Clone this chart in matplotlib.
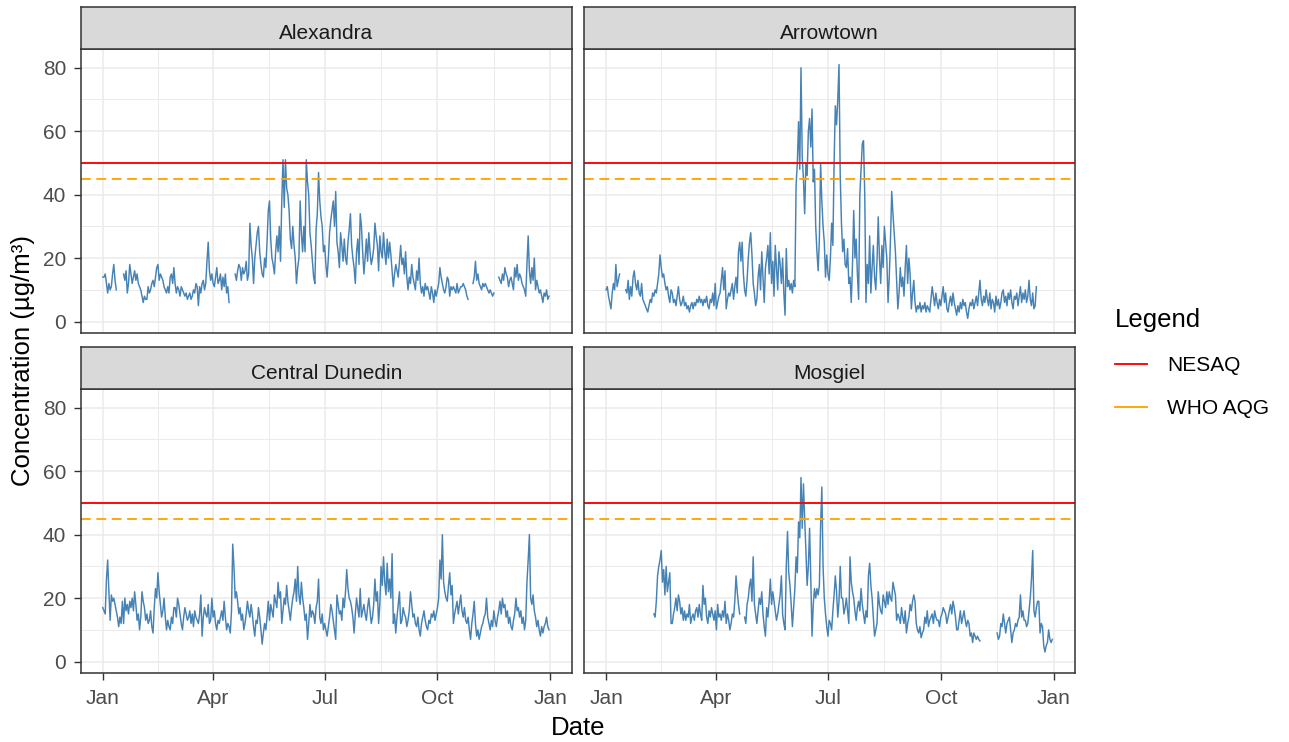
import numpy as np
import matplotlib
matplotlib.use("Agg")
import matplotlib.pyplot as plt
import matplotlib.dates as mdates
from matplotlib.lines import Line2D

plt.rcParams['font.family'] = ['Liberation Sans', 'DejaVu Sans']

nan = np.nan

sites = ["Alexandra", "Arrowtown", "Central Dunedin", "Mosgiel"]

# ---- daily PM10 (µg/m³), 2019, month by month ----
alex_jan = [14,14,15,12,9,12,10,11,15,18,13,10,nan,nan,nan,nan,nan,15,13,16,9,12,18,15,12,14,16,13,15,12,11]
alex_feb = [10,8,6,8,7,7,11,9,10,12,13,11,14,17,18,13,15,14,13,11,10,9,11,9,14,15,12,17]
alex_mar = [12,9,11,10,8,11,10,9,8,9,7,8,9,7,8,10,9,12,11,5,11,9,12,13,10,12,19,25,16,13,15]
alex_apr = [12,11,14,17,12,13,15,10,14,11,15,9,11,6,nan,nan,nan,nan,15,13,16,18,17,13,17,15,16,19,13,15]
alex_may = [31,24,20,12,20,24,28,30,22,18,15,14,20,17,25,35,38,26,20,18,15,22,27,22,30,19,38,51,36,51,42]
alex_jun = [40,35,26,23,30,24,20,12,17,20,38,28,22,30,22,51,44,40,28,24,19,14,12,29,34,47,38,33,30,22]
alex_jul = [24,18,14,20,28,32,35,38,30,41,25,22,17,28,24,19,26,20,18,25,29,34,24,20,17,12,22,26,18,34,30]
alex_aug = [22,15,20,26,19,28,22,18,20,23,31,27,24,16,27,22,20,28,22,18,26,20,25,21,16,11,15,18,16,14,19]
alex_sep = [24,18,20,15,22,14,10,14,12,18,14,12,10,16,13,20,12,9,11,8,12,10,11,9,7,11,9,6,10,8]
alex_oct = [10,12,17,14,12,10,9,11,14,13,8,11,10,11,10,9,12,9,10,11,11,12,11,10,8,7,nan,nan,nan,12,14]
alex_nov = [19,13,15,12,11,10,12,11,12,11,10,9,10,9,8,9,nan,nan,nan,14,13,12,15,13,17,15,14,11,13,14]
alex_dec = [12,10,17,14,18,13,15,14,12,11,10,8,18,27,16,12,17,13,20,10,13,11,9,10,8,6,9,8,10,7,8]

arrow_jan = [10,11,8,6,4,9,12,10,18,11,13,15,nan,nan,nan,nan,10,9,13,7,11,8,14,16,12,10,13,9,8,12,7]
arrow_feb = [6,5,4,3,5,7,6,9,8,10,9,12,15,21,17,14,15,12,10,11,8,6,10,9,6,7,5,8]
arrow_mar = [11,7,5,6,8,5,6,4,5,3,5,6,4,6,5,7,6,8,6,7,5,7,6,8,5,4,7,6,9,5,12]
arrow_apr = [4,6,8,9,13,17,10,16,4,7,9,8,10,12,7,11,14,9,22,25,19,25,15,10,8,13,20,25,28,21]
arrow_may = [12,9,5,7,14,18,10,22,14,6,17,20,24,15,28,12,19,8,24,17,10,22,18,12,20,9,2,23,11,13,10]
arrow_jun = [12,9,13,11,43,50,63,48,80,52,45,34,50,46,60,64,55,67,44,48,30,22,16,26,50,38,30,25,14,21]
arrow_jul = [15,13,20,31,24,50,68,62,70,81,46,31,22,26,18,17,23,12,14,6,18,35,20,26,15,7,40,48,56,57,40]
arrow_aug = [6,18,12,27,9,17,24,14,10,19,33,20,12,24,17,30,25,20,6,14,26,41,34,28,22,13,4,9,17,11,14]
arrow_sep = [8,17,24,12,20,15,4,9,13,6,3,5,4,6,3,5,4,6,3,5,4,3,7,11,8,5,9,6,4,7]
arrow_oct = [5,8,11,6,9,4,3,6,8,5,9,6,4,2,5,3,6,4,7,5,6,3,1,4,6,5,7,4,6,8,5]
arrow_nov = [9,13,7,5,8,6,10,7,5,9,4,7,6,3,8,5,7,4,6,9,10,6,8,5,9,7,10,6,4,8]
arrow_dec = [7,9,5,8,11,6,9,7,10,6,8,13,7,5,9,4,5,11,nan,nan,nan,nan,nan,nan,nan,nan,nan,nan,nan,nan,nan]

dun_jan = [17,16,15,26,32,22,13,21,19,20,18,16,14,11,14,12,19,12,20,16,18,15,19,17,20,16,22,18,13,15,10]
dun_feb = [14,22,19,17,13,15,12,13,16,11,9,17,23,20,28,22,18,14,16,20,14,10,13,11,10,14,12,17]
dun_mar = [17,14,20,18,15,12,10,14,17,15,13,14,16,12,15,11,16,14,13,12,15,21,8,14,17,15,14,18,12,13,20]
dun_apr = [14,16,12,10,13,12,14,16,13,19,14,10,12,11,9,16,37,30,20,22,19,15,17,13,15,10,12,15,19,16]
dun_may = [14,18,15,11,8,13,12,17,14,10,5.5,9,12,10,14,19,13,18,16,14,21,19,17,25,20,22,12,16,20,18,24]
dun_jun = [19,16,13,17,20,22,26,19,30,21,18,25,20,17,13,15,7,12,18,14,16,15,12,17,19,26,14,12,15,10]
dun_jul = [12,10,8,11,14,18,16,13,10,7,21,18,15,16,13,20,17,22,29,23,20,19,17,14,9,15,20,17,14,23,14]
dun_aug = [16,18,15,13,17,20,16,12,14,18,26,19,22,12,18,30,24,33,25,21,31,22,26,20,34,12,15,9,14,18,22]
dun_sep = [12,13,17,15,14,11,13,16,22,18,14,15,12,11,14,10,8,12,14,16,13,11,10,13,12,15,14,16,13,15]
dun_oct = [17,20,32,26,40,25,22,20,19,24,28,21,24,12,15,17,19,15,18,21,16,14,17,13,12,14,10,7,12,15,19]
dun_nov = [12,8,10,7,9,11,12,14,15,20,14,12,10,13,11,16,13,11,14,16,19,15,20,17,18,14,16,12,14,11]
dun_dec = [10,13,15,20,16,17,14,16,12,14,10,13,25,32,40,20,18,21,16,14,11,13,10,8,11,9,11,12,14,11,10]

mos_jan = [nan]*31
mos_feb = [nan]*8 + [15,14,19,27,30,32,35,25,29,21,30,22,25,28,12,12,15,17,20,16]
mos_mar = [21,19,15,17,13,16,13,15,14,18,12,14,15,13,16,17,14,18,15,13,24,18,20,14,12,16,14,17,15,13,16]
mos_apr = [10,18,14,15,13,16,14,19,12,15,13,10,12,15,14,19,27,22,18,15,nan,nan,nan,14,12,18,20,24,26,19]
mos_may = [33,18,15,12,16,20,18,22,15,11,8,17,14,19,26,18,22,19,16,13,15,18,21,27,15,12,10,30,41,28,24]
mos_jun = [18,11,17,23,33,28,44,39,58,42,56,45,35,24,30,42,26,8,18,23,20,23,21,24,43,55,30,20,15,11]
mos_jul = [8,13,12,10,16,21,27,22,14,19,30,20,20,15,17,20,16,12,33,25,22,20,16,13,17,19,16,23,18,15,12]
mos_aug = [16,14,27,31,24,20,14,8,10,12,22,18,16,15,21,19,17,22,18,22,20,19,25,23,21,13,15,14,12,17,14]
mos_sep = [12,16,9,12,14,18,16,19,21,19,12,10,9,11,7.5,9,10,14,12,16,11,13,14,15,12,16,14,13,13,11]
mos_oct = [14,15,17,16,15,12,14,16,18,15,19,17,14,10,10,13,16,12,14,16,13,11,13,12,8,9,6,9,8,7,8]
mos_nov = [7,6.5] + [nan]*13 + [9,7,8,12,11,15,12,9,12,13,14,10,6,9,10]
mos_dec = [12,11,13,14,21,14,16,13,13,11,12,16,20,26,35,16,14,17,19,19,9,12,11,5,3,5,6,10,7,6,7]

series = {
    "Alexandra": alex_jan + alex_feb + alex_mar + alex_apr + alex_may + alex_jun +
                 alex_jul + alex_aug + alex_sep + alex_oct + alex_nov + alex_dec,
    "Arrowtown": arrow_jan + arrow_feb + arrow_mar + arrow_apr + arrow_may + arrow_jun +
                 arrow_jul + arrow_aug + arrow_sep + arrow_oct + arrow_nov + arrow_dec,
    "Central Dunedin": dun_jan + dun_feb + dun_mar + dun_apr + dun_may + dun_jun +
                       dun_jul + dun_aug + dun_sep + dun_oct + dun_nov + dun_dec,
    "Mosgiel": mos_jan + mos_feb + mos_mar + mos_apr + mos_may + mos_jun +
               mos_jul + mos_aug + mos_sep + mos_oct + mos_nov + mos_dec,
}

nesaq = 50
who_aqg = 45
legend_labels = ["NESAQ", "WHO AQG"]
x_tick_dates = ["2019-01-01", "2019-04-01", "2019-07-01", "2019-10-01", "2020-01-01"]
x_tick_labels = ["Jan", "Apr", "Jul", "Oct", "Jan"]
y_ticks = [0, 20, 40, 60, 80]
y_minor = [10, 30, 50, 70]

# ---- figure ----
W, H = 1289, 742
fig = plt.figure(figsize=(W / 100, H / 100), dpi=100)

border = "#333333"
grid_c = "#EBEBEB"
tick_c = "#4D4D4D"

def fx(px):
    return px / W

def fy(py):
    return 1 - py / H

panel_w = 491
plot_h = 284.3
strip_h = 41.7
lefts = [80.7, 584.0]
tops = [49.0, 389.0]   # top of plot area (below strip)

start = np.datetime64("2019-01-01")
xt = mdates.date2num(np.array(x_tick_dates, dtype="datetime64[D]"))
x_minor = (xt[:-1] + xt[1:]) / 2
x0 = mdates.date2num(start) - 18.0
x1 = mdates.date2num(np.datetime64("2019-12-31")) + 18.5

for i, site in enumerate(sites):
    r, c = divmod(i, 2)
    L = lefts[c]
    T = tops[r]
    ax = fig.add_axes([fx(L), fy(T + plot_h), fx(panel_w), plot_h / H])
    vals = np.array(series[site], dtype=float)
    dates = start + np.arange(len(vals))
    ax.set_xlim(x0, x1)
    ax.set_ylim(-3.7, 85.9)
    # grid
    for v in y_ticks:
        ax.axhline(v, color=grid_c, lw=1.1, zorder=0)
    for v in y_minor:
        ax.axhline(v, color=grid_c, lw=0.7, zorder=0)
    for v in xt:
        ax.axvline(v, color=grid_c, lw=1.1, zorder=0)
    for v in x_minor:
        ax.axvline(v, color=grid_c, lw=0.7, zorder=0)

    ax.plot(mdates.date2num(dates), vals, color="#4682B4", lw=1.05, zorder=2)
    ax.axhline(nesaq, color="#FF0000", lw=1.35, zorder=3)
    ax.axhline(who_aqg, color="#FFA500", lw=1.35, zorder=3, dashes=(5.2, 3.0))

    ax.set_xticks(xt)
    ax.set_yticks(y_ticks)
    ax.tick_params(axis="both", direction="out", length=4.7, width=1.0,
                   color=border, labelcolor=tick_c, labelsize=15)
    ax.tick_params(axis="x", pad=6.5)
    ax.tick_params(axis="y", pad=5.8)
    if r == 0:
        ax.tick_params(axis="x", bottom=False, labelbottom=False)
    else:
        ax.set_xticklabels(x_tick_labels)
    if c == 1:
        ax.tick_params(axis="y", left=False, labelleft=False)
    for sp in ax.spines.values():
        sp.set_color(border)
        sp.set_linewidth(1.1)
        sp.set_zorder(5)

    # strip
    sax = fig.add_axes([fx(L), fy(T), fx(panel_w), strip_h / H])
    sax.set_facecolor("#D9D9D9")
    sax.set_xticks([])
    sax.set_yticks([])
    for sp in sax.spines.values():
        sp.set_color(border)
        sp.set_linewidth(1.1)
    sax.text(0.5, 0.23, site, ha="center", va="baseline", fontsize=15,
             color="#1A1A1A", transform=sax.transAxes)

# axis titles
fig.text(fx((80.7 + 1075) / 2), fy(735), "Date", ha="center", va="baseline",
         fontsize=18.5, color="black")
fig.text(fx(23), fy(361), "Concentration (µg/m³)", ha="center", va="center",
         rotation=90, fontsize=18.5, color="black")

# legend
handles = [Line2D([], [], color="#FF0000", lw=1.35),
           Line2D([], [], color="#FFA500", lw=1.35)]
leg = fig.legend(handles, legend_labels, title="Legend", loc="upper left",
                 bbox_to_anchor=(fx(1115), fy(308)), frameon=False,
                 fontsize=15, title_fontsize=18.5, handlelength=1.55,
                 handletextpad=0.95, labelspacing=1.15, borderpad=0,
                 borderaxespad=0)
leg._legend_box.align = "left"

fig.savefig("out.png", dpi=100)
